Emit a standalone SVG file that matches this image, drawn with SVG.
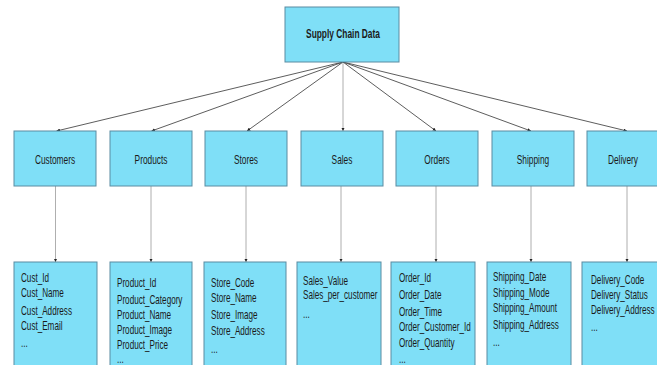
<svg xmlns="http://www.w3.org/2000/svg" width="657" height="365" viewBox="0 0 657 365">
<style>
.box{fill:#7fdff7;stroke:#5a8ca2;stroke-width:1}
.t{font-family:"Liberation Sans",Arial,sans-serif;fill:#1a1a1a}
.mid{font-size:13px}
.top{font-size:12.5px;font-weight:bold}
.lst{font-size:12.5px}
.c1{stroke:#333;stroke-width:0.8;fill:none}
.c2{stroke:#9a9a9a;stroke-width:0.8;fill:none}
</style>
<defs>
<marker id="ah" viewBox="0 0 6 6" refX="6" refY="3" markerWidth="3.5" markerHeight="3.5" orient="auto" markerUnits="userSpaceOnUse">
<path d="M0,0 L6,3 L0,6 z" fill="#222"/>
</marker>
</defs>
<rect width="657" height="365" fill="#fff"/>
<g id="connectors">
<line class="c1" x1="343" y1="62" x2="56.5" y2="131" marker-end="url(#ah)"/>
<line class="c1" x1="343" y1="62" x2="151.5" y2="131" marker-end="url(#ah)"/>
<line class="c1" x1="343" y1="62" x2="247" y2="131" marker-end="url(#ah)"/>
<line class="c2" x1="343" y1="62" x2="343" y2="131" marker-end="url(#ah)"/>
<line class="c1" x1="343" y1="62" x2="436" y2="131" marker-end="url(#ah)"/>
<line class="c1" x1="343" y1="62" x2="531" y2="131" marker-end="url(#ah)"/>
<line class="c1" x1="343" y1="62" x2="627" y2="131" marker-end="url(#ah)"/>
<line class="c2" x1="55.5" y1="186" x2="55.5" y2="262" marker-end="url(#ah)"/>
<line class="c2" x1="151" y1="186" x2="151" y2="262" marker-end="url(#ah)"/>
<line class="c2" x1="246" y1="186" x2="246" y2="262" marker-end="url(#ah)"/>
<line class="c2" x1="341" y1="186" x2="341" y2="262" marker-end="url(#ah)"/>
<line class="c2" x1="436" y1="186" x2="436" y2="262" marker-end="url(#ah)"/>
<line class="c2" x1="531" y1="186" x2="531" y2="262" marker-end="url(#ah)"/>
<line class="c2" x1="627" y1="186" x2="627" y2="262" marker-end="url(#ah)"/>
</g>
<g id="root">
<rect class="box" x="285" y="7" width="114" height="55"/>
<text class="t top" text-anchor="middle" transform="translate(343,38) scale(0.67,1)">Supply Chain Data</text>
</g>
<g id="customers">
<rect class="box" x="14" y="131" width="82" height="55"/>
<text class="t mid" text-anchor="middle" transform="translate(55,164) scale(0.64,1)">Customers</text>
</g>
<g id="products">
<rect class="box" x="110" y="131" width="82" height="55"/>
<text class="t mid" text-anchor="middle" transform="translate(151,164) scale(0.64,1)">Products</text>
</g>
<g id="stores">
<rect class="box" x="205" y="131" width="82" height="55"/>
<text class="t mid" text-anchor="middle" transform="translate(246,164) scale(0.64,1)">Stores</text>
</g>
<g id="sales">
<rect class="box" x="301" y="131" width="82" height="55"/>
<text class="t mid" text-anchor="middle" transform="translate(342,164) scale(0.64,1)">Sales</text>
</g>
<g id="orders">
<rect class="box" x="396" y="131" width="82" height="55"/>
<text class="t mid" text-anchor="middle" transform="translate(437,164) scale(0.64,1)">Orders</text>
</g>
<g id="shipping">
<rect class="box" x="492" y="131" width="82" height="55"/>
<text class="t mid" text-anchor="middle" transform="translate(533,164) scale(0.64,1)">Shipping</text>
</g>
<g id="delivery">
<rect class="box" x="587" y="131" width="82" height="55"/>
<text class="t mid" text-anchor="middle" transform="translate(623,164) scale(0.64,1)">Delivery</text>
</g>
<g id="customers_attrs">
<rect class="box" x="14" y="262" width="83" height="110"/>
<text class="t lst" transform="translate(21,0) scale(0.65,1)"><tspan x="0" y="282">Cust_Id</tspan><tspan x="0" y="297">Cust_Name</tspan><tspan x="0" y="315">Cust_Address</tspan><tspan x="0" y="330">Cust_Email</tspan><tspan x="0" y="347">...</tspan></text>
</g>
<g id="products_attrs">
<rect class="box" x="110" y="262" width="82" height="110"/>
<text class="t lst" transform="translate(117,0) scale(0.65,1)"><tspan x="0" y="287">Product_Id</tspan><tspan x="0" y="304">Product_Category</tspan><tspan x="0" y="319">Product_Name</tspan><tspan x="0" y="334">Product_Image</tspan><tspan x="0" y="349">Product_Price</tspan><tspan x="0" y="363">...</tspan></text>
</g>
<g id="stores_attrs">
<rect class="box" x="204" y="262" width="82" height="110"/>
<text class="t lst" transform="translate(211,0) scale(0.65,1)"><tspan x="0" y="287">Store_Code</tspan><tspan x="0" y="302">Store_Name</tspan><tspan x="0" y="319">Store_Image</tspan><tspan x="0" y="335">Store_Address</tspan><tspan x="0" y="353">...</tspan></text>
</g>
<g id="sales_attrs">
<rect class="box" x="297" y="262" width="84" height="110"/>
<text class="t lst" transform="translate(303,0) scale(0.65,1)"><tspan x="0" y="285">Sales_Value</tspan><tspan x="0" y="299">Sales_per_customer</tspan><tspan x="0" y="318">...</tspan></text>
</g>
<g id="orders_attrs">
<rect class="box" x="391" y="262" width="84" height="110"/>
<text class="t lst" transform="translate(399,0) scale(0.65,1)"><tspan x="0" y="282">Order_Id</tspan><tspan x="0" y="299">Order_Date</tspan><tspan x="0" y="316">Order_Time</tspan><tspan x="0" y="331">Order_Customer_Id</tspan><tspan x="0" y="347">Order_Quantity</tspan><tspan x="0" y="363">...</tspan></text>
</g>
<g id="shipping_attrs">
<rect class="box" x="487" y="262" width="84" height="110"/>
<text class="t lst" transform="translate(493,0) scale(0.65,1)"><tspan x="0" y="281">Shipping_Date</tspan><tspan x="0" y="297">Shipping_Mode</tspan><tspan x="0" y="312">Shipping_Amount</tspan><tspan x="0" y="329">Shipping_Address</tspan><tspan x="0" y="346">...</tspan></text>
</g>
<g id="delivery_attrs">
<rect class="box" x="582" y="262" width="84" height="110"/>
<text class="t lst" transform="translate(591,0) scale(0.65,1)"><tspan x="0" y="284">Delivery_Code</tspan><tspan x="0" y="299">Delivery_Status</tspan><tspan x="0" y="314">Delivery_Address</tspan><tspan x="0" y="331">...</tspan></text>
</g>
</svg>
